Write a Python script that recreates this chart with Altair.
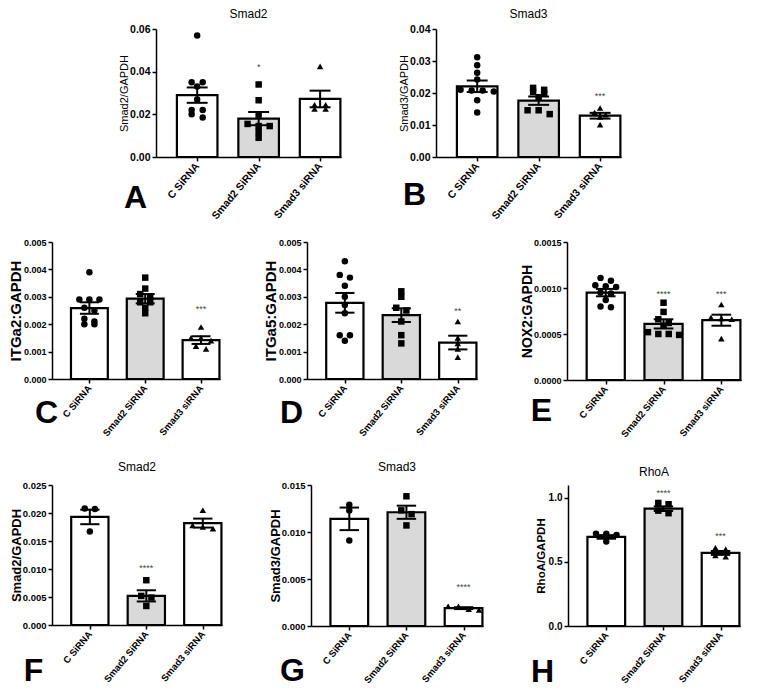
import json
import altair as alt
import pandas as pd

CATS = ["C SiRNA", "Smad2 SiRNA", "Smad3 siRNA"]

# ---- Panel A : Smad2 ----
A_means = [0.0290, 0.0180, 0.0272]
A_sems = [0.0036, 0.0031, 0.0039]
A_c = [0.057, 0.035, 0.035, 0.033, 0.027, 0.022, 0.022, 0.020, 0.0185]
A_s2 = [0.034, 0.0266, 0.0199, 0.0145, 0.0145, 0.0155, 0.0118, 0.009]
A_s3 = [0.0425, 0.0245, 0.0225, 0.0225, 0.0245]
A_stars = ["", "*", ""]
A_star_y = [0, 0.042, 0]

# ---- Panel B : Smad3 ----
B_means = [0.0221, 0.0176, 0.0129]
B_sems = [0.0018, 0.0013, 0.0009]
B_c = [0.0312, 0.0287, 0.0263, 0.0242, 0.0208, 0.0208, 0.0210, 0.0205, 0.0177, 0.0139]
B_s2 = [0.0216, 0.0210, 0.0203, 0.0198, 0.0187, 0.0146, 0.0146, 0.0134]
B_s3 = [0.0153, 0.0139, 0.0132, 0.0125, 0.0101]
B_stars = ["", "", "***"]
B_star_y = [0, 0, 0.019]

# ---- Panel C : ITGa2 ----
C_means = [0.00259, 0.00293, 0.00142]
C_sems = [0.00021, 0.00017, 0.00014]
C_c = [0.0039, 0.0029, 0.0029, 0.0029, 0.0026, 0.0025, 0.0021, 0.0022, 0.0020, 0.0020]
C_s2 = [0.0037, 0.0033, 0.0031, 0.0030, 0.0028, 0.0028, 0.0026, 0.0024]
C_s3 = [0.0019, 0.0015, 0.0015, 0.0014, 0.0012, 0.0011]
C_stars = ["", "", "***"]
C_star_y = [0, 0, 0.00254]

# ---- Panel D : ITGa5 ----
D_means = [0.00278, 0.00233, 0.00133]
D_sems = [0.00036, 0.00025, 0.00025]
D_c = [0.0043, 0.0038, 0.0037, 0.0034, 0.0030, 0.0027, 0.0024, 0.0016, 0.0016, 0.0014]
D_s2 = [0.0032, 0.0030, 0.0026, 0.0025, 0.0021, 0.0016, 0.0013]
D_s3 = [0.0021, 0.0015, 0.0013, 0.0011, 0.0008]
D_stars = ["", "", "**"]
D_star_y = [0, 0, 0.0025]

# ---- Panel E : NOX2 ----
E_means = [0.00095, 0.00061, 0.00065]
E_sems = [0.00004, 0.00005, 0.00006]
E_c = [0.00108, 0.00111, 0.00102, 0.00101, 0.00103, 0.00095, 0.00094, 0.00087, 0.00079, 0.00080]
E_s2 = [0.00084, 0.00074, 0.00066, 0.00062, 0.00059, 0.00050, 0.00050, 0.00049, 0.00052]
E_s3 = [0.00082, 0.00068, 0.00066, 0.00067, 0.00045]
E_stars = ["", "****", "***"]
E_star_y = [0, 0.00094, 0.00093]

# ---- Panel F : Smad2 ----
F_means = [0.0193, 0.0052, 0.0182]
F_sems = [0.0013, 0.0010, 0.0008]
F_c = [0.0208, 0.0207, 0.0167]
F_s2 = [0.0080, 0.0052, 0.0049, 0.0034]
F_s3 = [0.0205, 0.0178, 0.0175, 0.0172]
F_stars = ["", "****", ""]
F_star_y = [0, 0.0101, 0]

# ---- Panel G : Smad3 ----
G_means = [0.0114, 0.0121, 0.0019]
G_sems = [0.0012, 0.0007, 0.0001]
G_c = [0.0129, 0.0123, 0.0091]
G_s2 = [0.0138, 0.0123, 0.0119, 0.0107]
G_s3 = [0.0021, 0.0018, 0.0017, 0.0021]
G_stars = ["", "", "****"]
G_star_y = [0, 0, 0.0042]

# ---- Panel H : RhoA ----
H_means = [0.695, 0.915, 0.570]
H_sems = [0.014, 0.018, 0.015]
H_c = [0.71, 0.72, 0.72, 0.66]
H_s2 = [0.95, 0.96, 0.90, 0.88]
H_s3 = [0.60, 0.61, 0.55, 0.54]
H_stars = ["", "****", "***"]
H_star_y = [0, 1.04, 0.70]

FONT = "Liberation Sans, Arial, sans-serif"
NARROW = "Liberation Sans Narrow, Arial Narrow, Liberation Sans, sans-serif"
LABEL_EXPR = json.dumps(CATS) + "[datum.value]"
HALF = 0.33
CAP = 0.17


def jitter(vals, dmax, spread=0.18):
    order = sorted(range(len(vals)), key=lambda k: -vals[k])
    thr = 0.03 * dmax
    offs = [0.0] * len(vals)
    clusters = []
    for k in order:
        if clusters and len(clusters[-1]) < 4 and vals[clusters[-1][0]] - vals[k] < thr:
            clusters[-1].append(k)
        else:
            clusters.append([k])
    for cl in clusters:
        n = len(cl)
        for j, k in enumerate(cl):
            offs[k] = (j - (n - 1) / 2) * spread
    return offs


def panel(letter, title, ytitle, means, sems, pts, stars, star_y, shapes,
          ydom, yticks, yfmt, width, height, yt_font, yt_size, yt_weight,
          ylab_size, ext, tpad, xlab_size, letter_xy, title_offset):
    bars = pd.DataFrame({
        "idx": [0, 1, 2], "cat": CATS, "mean": means, "sem": sems,
    })
    bars["base"] = 0.0
    bars["lo"] = bars["mean"] - bars["sem"]
    bars["hi"] = bars["mean"] + bars["sem"]
    bars["xl"] = bars["idx"] - HALF
    bars["xr"] = bars["idx"] + HALF
    bars["cl"] = bars["idx"] - CAP
    bars["cr"] = bars["idx"] + CAP

    rows = []
    for i, vals in enumerate(pts):
        offs = jitter(vals, ydom[1])
        for v, o in zip(vals, offs):
            rows.append({"idx": i, "cat": CATS[i], "v": v, "xo": i + o})
    pdf = pd.DataFrame(rows)

    sdf = pd.DataFrame({"idx": [0, 1, 2], "lab": stars, "sy": star_y})
    sdf = sdf[sdf["lab"] != ""]

    xs = alt.Scale(domain=[-0.67, 2.34], nice=False, zero=False)
    ys = alt.Scale(domain=ydom, nice=False, zero=True)
    xax = alt.Axis(values=[0, 1, 2], labelExpr=LABEL_EXPR, labelAngle=-50,
                   labelAlign="right", labelBaseline="middle",
                   labelFontSize=xlab_size, labelFontWeight="bold",
                   labelPadding=3, tickSize=4, grid=False,
                   labelOverlap=False, labelFlush=False,
                   title=letter, titleX=letter_xy[0], titleY=letter_xy[1],
                   titleAlign="center", titleBaseline="middle", titleAngle=0,
                   titleFontSize=32, titleFontWeight="bold", titleFont=FONT)
    yax = alt.Axis(values=yticks, format=yfmt, title=ytitle, titleFont=yt_font,
                   titleFontSize=yt_size, titleFontWeight=yt_weight,
                   titlePadding=tpad, minExtent=ext, maxExtent=ext,
                   labelFontSize=ylab_size, labelFontWeight="bold",
                   labelPadding=2, tickSize=4, grid=False)

    def X(f):
        return alt.X(f, scale=xs, axis=xax)

    def Y(f):
        return alt.Y(f, scale=ys, axis=yax)

    base = alt.Chart(bars)
    bar = base.mark_rect(stroke="black", strokeWidth=2.2).encode(
        x=X("xl:Q"), x2="xr:Q", y=Y("base:Q"), y2="mean:Q",
        fill=alt.Fill("cat:N", scale=alt.Scale(domain=CATS, range=["white", "#d9d9d9", "white"]), legend=None),
    )
    err = base.mark_rule(color="black", strokeWidth=2).encode(x=X("idx:Q"), y=Y("lo:Q"), y2="hi:Q")
    cap_hi = base.mark_rule(color="black", strokeWidth=2).encode(x=X("cl:Q"), x2="cr:Q", y=Y("hi:Q"))
    cap_lo = base.mark_rule(color="black", strokeWidth=2).encode(x=X("cl:Q"), x2="cr:Q", y=Y("lo:Q"))
    dots = alt.Chart(pdf).mark_point(filled=True, opacity=1, color="black", size=42).encode(
        x=X("xo:Q"), y=Y("v:Q"),
        shape=alt.Shape("cat:N", scale=alt.Scale(domain=CATS, range=shapes), legend=None),
    )
    layers = [bar, err, cap_hi, cap_lo, dots]
    if len(sdf):
        txt = alt.Chart(sdf).mark_text(fontSize=9, color="#444", baseline="middle", font=FONT).encode(
            x=X("idx:Q"), y=Y("sy:Q"), text="lab:N")
        layers.append(txt)
    ch = alt.layer(*layers).properties(width=width, height=height)
    if title:
        ch = ch.properties(title=alt.TitleParams(title, fontSize=12, font=NARROW if yt_font == NARROW else FONT,
                                                 fontWeight="normal", offset=title_offset, anchor="middle"))
    return ch


SH1 = ["circle", "square", "triangle-up"]
SH2 = ["circle", "triangle-up", "diamond"]

pA = panel("A", "Smad2", "Smad2/GAPDH", A_means, A_sems, [A_c, A_s2, A_s3], A_stars, A_star_y, SH1,
           [0, 0.06], [0, 0.02, 0.04, 0.06], ".2f", 185, 128, NARROW, 11, "normal", 10.5, 25, 2, 10.5,
           (-21, 40), 3)
pB = panel("B", "Smad3", "Smad3/GAPDH", B_means, B_sems, [B_c, B_s2, B_s3], B_stars, B_star_y, SH1,
           [0, 0.04], [0, 0.01, 0.02, 0.03, 0.04], ".2f", 185, 128, NARROW, 11, "normal", 10.5, 25, 2, 10.5,
           (-22, 37), 3)
pC = panel("C", "", "ITGa2:GAPDH", C_means, C_sems, [C_c, C_s2, C_s3], C_stars, C_star_y, SH2,
           [0, 0.005], [0, 0.001, 0.002, 0.003, 0.004, 0.005], ".3f", 168, 137, FONT, 15, "bold", 9, 27, 2, 9.5,
           (-6, 33), 8)
pD = panel("D", "", "ITGa5:GAPDH", D_means, D_sems, [D_c, D_s2, D_s3], D_stars, D_star_y, SH2,
           [0, 0.005], [0, 0.001, 0.002, 0.003, 0.004, 0.005], ".3f", 170, 137, FONT, 15, "bold", 9, 27, 2, 9.5,
           (-16, 33), 8)
pE = panel("E", "", "NOX2:GAPDH", E_means, E_sems, [E_c, E_s2, E_s3], E_stars, E_star_y, SH2,
           [0, 0.0015], [0, 0.0005, 0.001, 0.0015], ".4f", 174, 138, FONT, 14, "bold", 9, 30, 3, 9.5,
           (-26, 30), 8)
pF = panel("F", "Smad2", "Smad2/GAPDH", F_means, F_sems, [F_c, F_s2, F_s3], F_stars, F_star_y, SH1,
           [0, 0.025], [0, 0.005, 0.01, 0.015, 0.02, 0.025], ".3f", 170, 140, FONT, 13, "bold", 9.5, 27, 2, 9.5,
           (-19, 45), 6)
pG = panel("G", "Smad3", "Smad3/GAPDH", G_means, G_sems, [G_c, G_s2, G_s3], G_stars, G_star_y, SH1,
           [0, 0.015], [0, 0.005, 0.01, 0.015], ".3f", 172, 141, FONT, 13, "bold", 9.5, 27, 2, 9.5,
           (-19, 44), 6)
pH = panel("H", "RhoA", "RhoA/GAPDH", H_means, H_sems, [H_c, H_s2, H_s3], H_stars, H_star_y, SH1,
           [0, 1.1], [0, 0.5, 1.0], ".1f", 172, 141, FONT, 11.5, "bold", 10, 20, 2, 9.5,
           (-26, 45), 6)

spacer = alt.Chart(pd.DataFrame({"s": [0]})).mark_point(opacity=0).properties(width=66, height=10)

row1 = alt.hconcat(alt.hconcat(spacer, pA, spacing=0), pB, spacing=56)
row2 = alt.hconcat(pC, pD, pE, spacing=42)
row3 = alt.hconcat(pF, pG, pH, spacing=46)

chart = alt.vconcat(alt.vconcat(row1, row2, spacing=16), row3, spacing=22).properties(
    padding={"left": 0, "top": 0, "right": 5, "bottom": 5}
).configure_view(stroke=None).configure_axis(
    domainColor="black", domainWidth=1.5, tickColor="black", tickWidth=1.5,
    labelColor="black", titleColor="black", labelFont=FONT,
).configure_title(color="black")

chart.save("out.html", embed_options={"renderer": "svg", "actions": False})
